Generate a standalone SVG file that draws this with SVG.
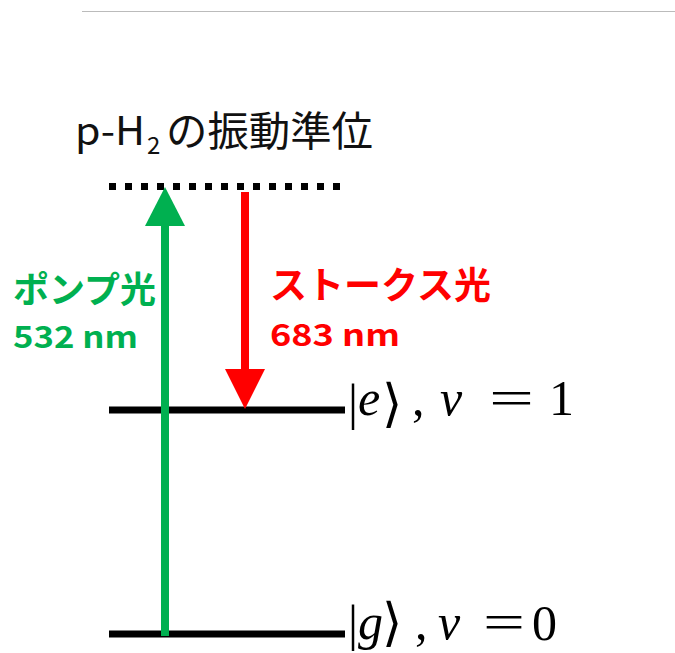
<svg xmlns="http://www.w3.org/2000/svg" width="675" height="653" viewBox="0 0 675 653">
<style>
.jp{font-family:"Noto Sans CJK JP","Noto Sans",sans-serif}
.b{font-weight:bold}
.g{fill:#00b050}
.r{fill:#ff0000}
.m{font-family:"Liberation Serif","DejaVu Serif",serif;font-size:50px;fill:#000}
.i{font-style:italic}
.br{font-family:"DejaVu Serif","DejaVu Sans",serif;font-size:52px}
.lvl{stroke:#000;stroke-width:7}
</style>
<rect width="675" height="653" fill="#fff"/>
<line x1="82" y1="11.5" x2="675" y2="11.5" stroke="#bbbbbb" stroke-width="1"/>
<g id="title">
<text class="jp" x="75" y="145" font-size="39" fill="#111" textLength="70" lengthAdjust="spacingAndGlyphs">p-H</text>
<text class="jp" x="147" y="154" font-size="24" fill="#111">2</text>
<text class="jp" x="166" y="146" font-size="41" fill="#111" textLength="207" lengthAdjust="spacingAndGlyphs">の振動準位</text>
</g>
<g id="virtual-level">
<line x1="109" y1="186.5" x2="341" y2="186.5" stroke="#000" stroke-width="7" stroke-dasharray="7 9"/>
</g>
<g id="level-e">
<line class="lvl" x1="109" y1="410" x2="345" y2="410"/>
<text class="m" x="348" y="419" font-size="56">|</text>
<text class="m i" x="358" y="415">e</text>
<text class="br" x="382" y="421">⟩</text>
<text class="m" x="412" y="415">,</text>
<text class="m i" x="440" y="415">v</text>
<text class="m" x="489" y="415" textLength="45" lengthAdjust="spacingAndGlyphs">=</text>
<text class="m" x="549" y="415">1</text>
</g>
<g id="level-g">
<line class="lvl" x1="109" y1="634" x2="345" y2="634"/>
<text class="m" x="348" y="640" font-size="54">|</text>
<text class="m i" x="358" y="639">g</text>
<text class="br" x="382" y="640" font-size="50">⟩</text>
<text class="m" x="415" y="639">,</text>
<text class="m i" x="438" y="639">v</text>
<text class="m" x="483" y="639" textLength="42" lengthAdjust="spacingAndGlyphs">=</text>
<text class="m" x="532" y="640">0</text>
</g>
<g id="pump-label">
<text class="jp b g" x="13" y="303" font-size="36">ポンプ光</text>
<text class="jp b g" x="13" y="348" font-size="30" textLength="125" lengthAdjust="spacingAndGlyphs">532 nm</text>
</g>
<g id="stokes-label">
<text class="jp b r" x="270" y="299" font-size="37">ストークス光</text>
<text class="jp b r" x="270" y="346" font-size="30" textLength="130" lengthAdjust="spacingAndGlyphs">683 nm</text>
</g>
<g id="connectors">
<line x1="165" y1="636" x2="165" y2="224" stroke="#00b050" stroke-width="8"/>
<polygon points="165,187 145,226 185,226" fill="#00b050"/>
<line x1="245" y1="192" x2="245" y2="371" stroke="#ff0000" stroke-width="8"/>
<polygon points="225,369 265,369 245,409" fill="#ff0000"/>
</g>
</svg>
